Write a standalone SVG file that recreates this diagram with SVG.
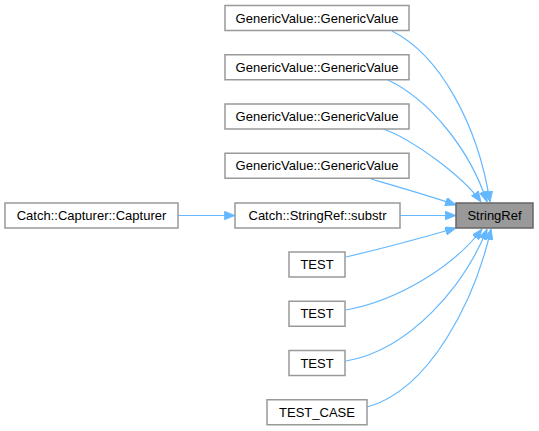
<svg xmlns="http://www.w3.org/2000/svg" width="539" height="431" viewBox="0 0 539 431">
<style>
.n rect{fill:#ffffff;stroke:#999999;stroke-width:1.5}
.h rect{fill:#999999;stroke:#666666;stroke-width:1.5}
text{font-family:"Liberation Sans",Arial,sans-serif;font-size:13px;fill:#000;text-anchor:middle}
.e path{fill:none;stroke:#63b8ff;stroke-width:1.2}
</style>
<defs>
<marker id="a" viewBox="0 0 10 8" refX="10" refY="4" markerWidth="11" markerHeight="8.5" markerUnits="userSpaceOnUse" orient="auto">
<path d="M0,0 L10,4 L0,8 z" fill="#63b8ff" stroke="#63b8ff" stroke-width="0.8"/>
</marker>
</defs>
<rect width="539" height="431" fill="#ffffff"/>
<g class="e">
<path d="M392,31 C440,55 478,125 490,202" marker-end="url(#a)"/>
<path d="M388,80 C430,100 470,150 487,202" marker-end="url(#a)"/>
<path d="M383,129 C410,138 462,175 481,202" marker-end="url(#a)"/>
<path d="M371,179 C395,186 430,196 456,205" marker-end="url(#a)"/>
<path d="M400,215.5 L456,215.5" marker-end="url(#a)"/>
<path d="M178,215.5 L235,215.5" marker-end="url(#a)"/>
<path d="M346,257 C380,249 425,237 456,228" marker-end="url(#a)"/>
<path d="M346,310 C400,300 455,265 482,229" marker-end="url(#a)"/>
<path d="M346,361 C410,350 465,285 487,229" marker-end="url(#a)"/>
<path d="M367,407 C430,390 475,300 491,229" marker-end="url(#a)"/>
</g>
<g id="gv1" class="n"><rect x="225" y="5.5" width="184" height="25"/><text x="317" y="22.5">GenericValue::GenericValue</text></g>
<g id="gv2" class="n"><rect x="225" y="54.75" width="184" height="25"/><text x="317" y="71.75">GenericValue::GenericValue</text></g>
<g id="gv3" class="n"><rect x="225" y="104" width="184" height="25"/><text x="317" y="121">GenericValue::GenericValue</text></g>
<g id="gv4" class="n"><rect x="225" y="153.25" width="184" height="25"/><text x="317" y="170.25">GenericValue::GenericValue</text></g>
<g id="capturer" class="n"><rect x="5" y="203" width="173" height="25"/><text x="91.5" y="220">Catch::Capturer::Capturer</text></g>
<g id="substr" class="n"><rect x="235" y="203" width="165" height="25"/><text x="317.5" y="220">Catch::StringRef::substr</text></g>
<g id="stringref" class="h"><rect x="456" y="203" width="77" height="25"/><text x="494.5" y="220">StringRef</text></g>
<g id="test1" class="n"><rect x="289" y="252" width="56" height="25"/><text x="317" y="269">TEST</text></g>
<g id="test2" class="n"><rect x="289" y="301.25" width="56" height="25"/><text x="317" y="318.25">TEST</text></g>
<g id="test3" class="n"><rect x="289" y="350.5" width="56" height="25"/><text x="317" y="367.5">TEST</text></g>
<g id="testcase" class="n"><rect x="267" y="399.75" width="100" height="25"/><text x="317" y="416.75">TEST_CASE</text></g>
</svg>
